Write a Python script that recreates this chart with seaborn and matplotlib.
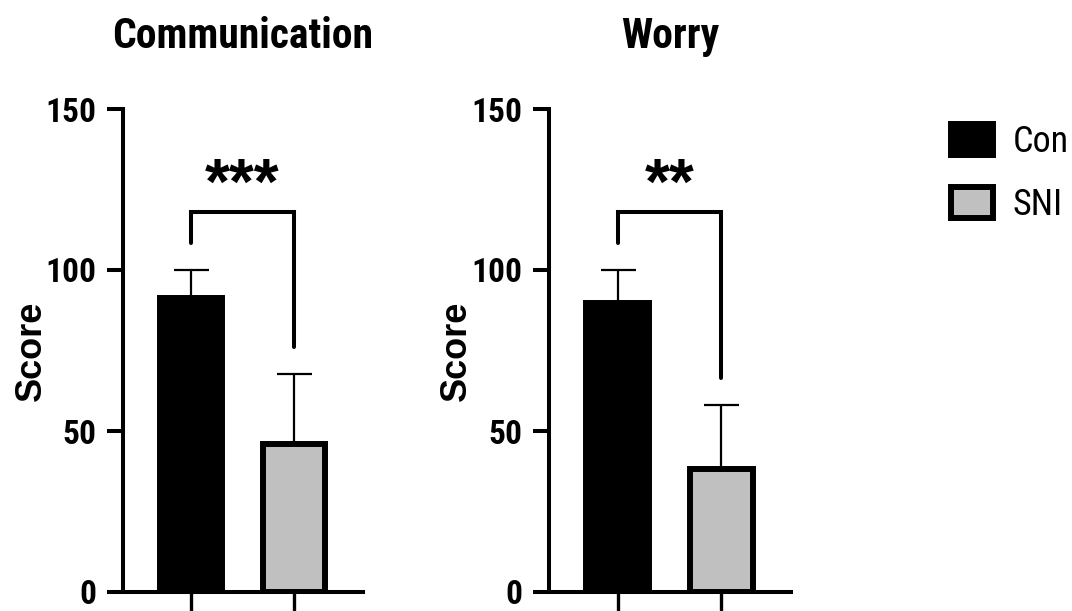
import matplotlib
matplotlib.use("Agg")
import matplotlib.pyplot as plt
from matplotlib.patches import Patch
import seaborn as sns
import pandas as pd

# ---- data ----
groups = ["Con", "SNI"]
panel_titles = ["Communication", "Worry"]
means_comm = [91.3, 46.0]
sd_comm = [8.7, 21.7]
means_worry = [89.7, 38.2]
sd_worry = [10.3, 19.9]
stars = ["***", "**"]
bracket_tops = [118, 118]
bracket_left_ends = [108.4, 108.4]
bracket_right_ends = [76.1, 66.5]
yticks = [0, 50, 100, 150]
ylabel = "Score"
colors = {"Con": "#000000", "SNI": "#C0C0C0"}

sns.set_theme(style="ticks")
NARROW = ["Liberation Sans Narrow", "Roboto Condensed", "DejaVu Sans Condensed",
          "Liberation Sans", "DejaVu Sans"]
REG = ["Liberation Sans", "DejaVu Sans"]
plt.rcParams["font.family"] = NARROW
for k in ["text.color", "axes.labelcolor", "xtick.color", "ytick.color", "axes.edgecolor"]:
    plt.rcParams[k] = "black"

fig = plt.figure(figsize=(10.72, 6.11), dpi=100)
W, H = 1072, 611
axes_px = [(123, 363), (549, 791)]
y0_px, y150_px = 592, 109

panels = [(means_comm, sd_comm), (means_worry, sd_worry)]
for i, ((means, sds), (xl, xr)) in enumerate(zip(panels, axes_px)):
    ax = fig.add_axes([xl / W, (H - y0_px) / H, (xr - xl) / W, (y0_px - y150_px) / H])
    df = pd.DataFrame({"group": groups, "mean": means, "sd": sds})
    sns.barplot(data=df, x="group", y="mean", hue="group", palette=colors,
                order=groups, hue_order=groups, width=0.6, edgecolor="black",
                linewidth=4.3, errorbar=None, legend=False, ax=ax, zorder=2)
    ax.errorbar(range(len(groups)), df["mean"], yerr=[[0] * len(groups), df["sd"]],
                fmt="none", ecolor="black", elinewidth=1.6, capsize=12.6,
                capthick=1.6, zorder=1.5)
    # significance bracket
    ax.plot([0, 0, 1, 1],
            [bracket_left_ends[i], bracket_tops[i], bracket_tops[i], bracket_right_ends[i]],
            color="black", lw=2.9, solid_capstyle="round", solid_joinstyle="miter",
            zorder=3)
    ax.text(0.5, bracket_tops[i] + 2.5, stars[i], ha="center", va="baseline",
            fontsize=46, fontweight="bold", family=REG)

    ax.set_ylim(0, 150)
    ax.set_xlim(-0.66, 1.67)
    ax.set_yticks(yticks)
    ax.set_yticklabels([str(t) for t in yticks], fontsize=24, fontweight="bold")
    ax.set_xticks(range(len(groups)))
    ax.set_xticklabels([])
    ax.set_xlabel("")
    ax.set_ylabel(ylabel, fontsize=26, fontweight="bold", family=REG)
    ax.yaxis.set_label_coords(-0.31, 0.5)
    ax.tick_params(axis="y", length=11.5, width=2.9, pad=8)
    ax.tick_params(axis="x", length=20, width=2.4)
    for s in ["top", "right"]:
        ax.spines[s].set_visible(False)
    for s in ["left", "bottom"]:
        ax.spines[s].set_linewidth(2.9)
    ax.set_title(panel_titles[i], fontsize=30, fontweight="bold", pad=44)

handles = [Patch(facecolor=colors[g], edgecolor="black", linewidth=4.3) for g in groups]
fig.legend(handles, groups, loc="upper left", bbox_to_anchor=(951 / W, 1 - 124 / H),
           frameon=False, fontsize=26, handlelength=1.15, handleheight=0.95,
           handletextpad=0.55, labelspacing=0.75, borderpad=0, borderaxespad=0)

fig.savefig("out.png", dpi=100)
